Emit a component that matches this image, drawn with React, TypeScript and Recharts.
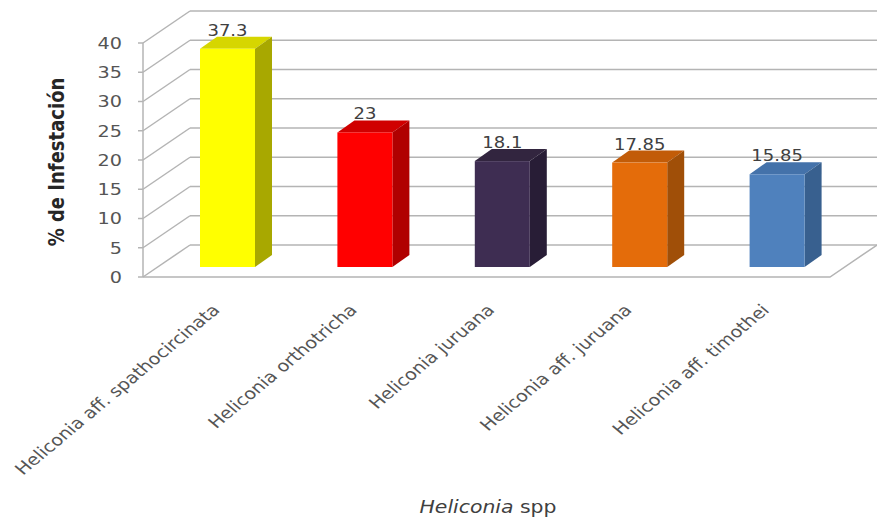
import React from 'react';
import { BarChart, Bar, XAxis, YAxis, CartesianGrid, LabelList } from 'recharts';

const categories = [
  'Heliconia aff. spathocircinata',
  'Heliconia orthotricha',
  'Heliconia juruana',
  'Heliconia aff. juruana',
  'Heliconia aff. timothei',
];
const values = [37.3, 23, 18.1, 17.85, 15.85];
const frontColors = ['#FFFF00', '#FF0000', '#3E2D52', '#E46C0A', '#4F81BD'];
const sideColors = ['#A8A800', '#B00000', '#281D36', '#A04F08', '#38608F'];
const topColors = ['#D6D600', '#D00000', '#32253F', '#C25C08', '#4472AA'];
const yTicks = [0, 5, 10, 15, 20, 25, 30, 35, 40];

const data = categories.map((name, i) => ({ name, value: values[i], idx: i }));

// depth of the 3d box, and where the bars sit inside it
const DX = 47;
const DY = 32;
const BX = 16;
const BY = 10;
const BDX = 17;
const BDY = 12;
// the source picture is stretched sideways, text included
const SX = 1.2;
const LINE = '#B4B4B4';
const TEXT = '#555555';
const FONT = '"DejaVu Sans", Verdana, sans-serif';

function WallLine(p: any) {
  const y = p.y1;
  const bottom = p.y + p.height;
  const isFloor = Math.abs(y - bottom) < 1;
  return (
    <g key={p.key}>
      <line x1={p.x1} y1={y} x2={p.x1 + DX} y2={y - DY} stroke={LINE} strokeWidth={1.5} />
      <line x1={p.x1 + DX} y1={y - DY} x2={p.x2 + DX} y2={y - DY} stroke={LINE} strokeWidth={1.5} />
      {isFloor && (
        <path
          d={`M${p.x1},${y} L${p.x2},${y} L${p.x2 + DX},${y - DY}`}
          fill="none"
          stroke={LINE}
          strokeWidth={1.5}
        />
      )}
    </g>
  );
}

function Bar3D(props: any) {
  const { x, y, width, height, payload } = props;
  const i = payload.idx;
  const fx = x + BX;
  const fy = y - BY;
  const base = fy + height;
  return (
    <g>
      <polygon
        points={`${fx},${fy} ${fx + width},${fy} ${fx + width + BDX},${fy - BDY} ${fx + BDX},${fy - BDY}`}
        fill={topColors[i]}
      />
      <polygon
        points={`${fx + width},${fy} ${fx + width + BDX},${fy - BDY} ${fx + width + BDX},${base - BDY} ${fx + width},${base}`}
        fill={sideColors[i]}
      />
      <rect x={fx} y={fy} width={width} height={height} fill={frontColors[i]} />
    </g>
  );
}

function ValueLabel(props: any) {
  const { x, y, width, value } = props;
  const tx = x + width / 2 + BX;
  const ty = y - BY - BDY - 1;
  return (
    <text
      transform={`translate(${tx},${ty}) scale(${SX},1)`}
      textAnchor="middle"
      fontSize={15}
      fontFamily={FONT}
      fill="#404040"
    >
      {value}
    </text>
  );
}

function CategoryTick(props: any) {
  const { x, y, payload } = props;
  const tx = x + 9;
  const ty = y + 32;
  return (
    <text
      transform={`translate(${tx},${ty}) scale(${SX},1) rotate(-45)`}
      textAnchor="end"
      fontSize={16}
      fontFamily={FONT}
      fill={TEXT}
    >
      {payload.value}
    </text>
  );
}

function ValueTick(props: any) {
  const { x, y, payload } = props;
  return (
    <text
      transform={`translate(${x},${y}) scale(${SX},1)`}
      textAnchor="end"
      dy="0.36em"
      fontSize={16}
      fontFamily={FONT}
      fill={TEXT}
    >
      {payload.value}
    </text>
  );
}

export default function App() {
  return (
    <div style={{ position: 'absolute', left: 0, top: 0, background: '#fff' }}>
      <BarChart
        width={877}
        height={521}
        data={data}
        margin={{ top: 43, right: 47, left: 83, bottom: 44 }}
      >
        <CartesianGrid vertical={false} horizontal={WallLine} />
        <XAxis
          dataKey="name"
          axisLine={false}
          tickLine={false}
          tickSize={0}
          height={200}
          interval={0}
          tick={CategoryTick}
          label={{
            content: () => (
              <text
                transform={`translate(488,513) scale(${SX},1)`}
                textAnchor="middle"
                fontSize={17}
                fontFamily={FONT}
                fill="#404040"
              >
                <tspan fontStyle="italic">Heliconia</tspan> spp
              </text>
            ),
          }}
        />
        <YAxis
          domain={[0, 40]}
          ticks={yTicks}
          interval={0}
          width={60}
          axisLine={{ stroke: LINE, strokeWidth: 1.5 }}
          tickLine={{ stroke: LINE, strokeWidth: 1.5 }}
          tickSize={5}
          tickMargin={16}
          tick={ValueTick}
          label={{
            content: () => (
              <text
                transform={`translate(64,162) scale(${SX},1) rotate(-90)`}
                textAnchor="middle"
                fontSize={18}
                fontWeight="bold"
                fontFamily={FONT}
                fill="#262626"
              >
                % de Infestación
              </text>
            ),
          }}
        />
        <Bar dataKey="value" barSize={55} shape={Bar3D} isAnimationActive={false}>
          <LabelList dataKey="value" content={ValueLabel} />
        </Bar>
      </BarChart>
    </div>
  );
}
